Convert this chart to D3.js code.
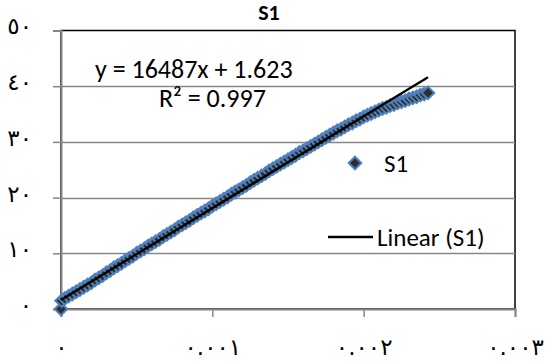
<!DOCTYPE html>
<html>
<head>
<meta charset="utf-8">
<script src="https://cdn.jsdelivr.net/npm/d3@7/dist/d3.min.js"></script>
<style>
  html, body { margin: 0; padding: 0; background: #fff; }
  svg { display: block; }
</style>
</head>
<body>
<svg id="chart" width="545" height="362"></svg>
<script>
// Series S1 (x, y)
const xValues = [
  0.000000, 0.000004, 0.000025, 0.000050, 0.000075, 0.000100, 0.000125, 0.000150, 0.000175, 0.000200,
  0.000225, 0.000250, 0.000275, 0.000300, 0.000325, 0.000350, 0.000375, 0.000400, 0.000425, 0.000450,
  0.000475, 0.000500, 0.000525, 0.000550, 0.000575, 0.000600, 0.000625, 0.000650, 0.000675, 0.000700,
  0.000725, 0.000750, 0.000775, 0.000800, 0.000825, 0.000850, 0.000875, 0.000900, 0.000925, 0.000950,
  0.000975, 0.001000, 0.001025, 0.001050, 0.001075, 0.001100, 0.001125, 0.001150, 0.001175, 0.001200,
  0.001225, 0.001250, 0.001275, 0.001300, 0.001325, 0.001350, 0.001375, 0.001400, 0.001425, 0.001450,
  0.001475, 0.001500, 0.001525, 0.001550, 0.001575, 0.001600, 0.001625, 0.001650, 0.001675, 0.001700,
  0.001725, 0.001750, 0.001775, 0.001800, 0.001825, 0.001850, 0.001875, 0.001900, 0.001925, 0.001950,
  0.001975, 0.002000, 0.002025, 0.002050, 0.002075, 0.002100, 0.002125, 0.002150, 0.002175, 0.002200,
  0.002225, 0.002250, 0.002275, 0.002300, 0.002325, 0.002350, 0.002375, 0.002400, 0.002425
];
const yValues = [
  0.0, 1.5, 1.9, 2.3, 2.7, 3.1, 3.5, 3.9, 4.3, 4.7,
  5.2, 5.6, 6.0, 6.5, 6.9, 7.4, 7.8, 8.2, 8.7, 9.1,
  9.5, 10.0, 10.4, 10.8, 11.3, 11.7, 12.1, 12.5, 13.0, 13.4,
  13.8, 14.2, 14.7, 15.1, 15.5, 15.9, 16.4, 16.8, 17.2, 17.6,
  18.0, 18.5, 18.9, 19.3, 19.7, 20.1, 20.6, 21.0, 21.4, 21.8,
  22.2, 22.7, 23.1, 23.5, 23.9, 24.3, 24.8, 25.2, 25.6, 26.0,
  26.4, 26.8, 27.2, 27.6, 28.1, 28.4, 28.8, 29.2, 29.6, 30.0,
  30.4, 30.8, 31.2, 31.6, 32.0, 32.3, 32.7, 33.1, 33.4, 33.8,
  34.1, 34.5, 34.8, 35.1, 35.4, 35.7, 36.0, 36.2, 36.5, 36.7,
  37.0, 37.2, 37.4, 37.7, 37.9, 38.1, 38.4, 38.6, 38.8
];

// Linear trendline
const slope = 16487;
const intercept = 1.623;
const rSquared = 0.997;

// Axis ticks and labels
const xTicks = [0, 0.001, 0.002, 0.003];
const xTickLabels = ["٠", "٠.٠٠١", "٠.٠٠٢", "٠.٠٠٣"];
const yTicks = [0, 10, 20, 30, 40, 50];
const yTickLabels = ["٠", "١٠", "٢٠", "٣٠", "٤٠", "٥٠"];

const seriesName = "S1";
const trendName = "Linear (S1)";

const svg = d3.select("#chart");
const plot = { left: 61, right: 515, top: 30.5, bottom: 309 };

const x = d3.scaleLinear().domain([0, 0.003]).range([plot.left, plot.right]);
const y = d3.scaleLinear().domain([0, 50]).range([plot.bottom, plot.top]);

const gridColor = "#868686";
const markerFill = "#2e2e2e";
const markerStroke = "#4F81BD";
const labelFont = "Carlito, Calibri, 'Liberation Sans', Arial, sans-serif";
const digitFont = "'DejaVu Sans', sans-serif";

// Plot-area border
svg.append("rect")
  .attr("x", plot.left).attr("y", plot.top)
  .attr("width", plot.right - plot.left).attr("height", plot.bottom - plot.top)
  .attr("fill", "#fff").attr("stroke", "#000").attr("stroke-width", 1.5);

// Horizontal gridlines
svg.append("g")
  .selectAll("line")
  .data(yTicks.filter(d => d > 0 && d < 50))
  .join("line")
  .attr("x1", plot.left).attr("x2", plot.right)
  .attr("y1", d => Math.round(y(d)) + 0.5).attr("y2", d => Math.round(y(d)) + 0.5)
  .attr("stroke", gridColor).attr("stroke-width", 1.5);

// Y axis
const yAxis = d3.axisLeft(y)
  .tickValues(yTicks)
  .tickFormat((d, i) => yTickLabels[i])
  .tickSize(8)
  .tickPadding(21);
const gy = svg.append("g").attr("transform", `translate(${plot.left},0)`).call(yAxis);
gy.select(".domain").attr("stroke", gridColor).attr("stroke-width", 2);
gy.selectAll(".tick line").attr("stroke", gridColor).attr("stroke-width", 1.5);
gy.selectAll(".tick text")
  .attr("font-family", digitFont).attr("font-size", 23).attr("fill", "#000")
  .attr("dy", "0.15em");

// X axis
const xAxis = d3.axisBottom(x)
  .tickValues(xTicks)
  .tickFormat((d, i) => xTickLabels[i])
  .tickSize(8)
  .tickPadding(22);
const gx = svg.append("g").attr("transform", `translate(0,${plot.bottom})`).call(xAxis);
gx.select(".domain").attr("stroke", gridColor).attr("stroke-width", 2);
gx.selectAll(".tick line").attr("stroke", gridColor).attr("stroke-width", 1.5);
gx.selectAll(".tick text")
  .attr("font-family", digitFont).attr("font-size", 23).attr("fill", "#000");

// Scatter markers
const points = xValues.map((v, i) => ({ x: v, y: yValues[i] }));
const diamond = d3.symbol().type(d3.symbolDiamond2).size(100);
svg.append("g")
  .selectAll("path")
  .data(points)
  .join("path")
  .attr("d", diamond)
  .attr("transform", d => `translate(${x(d.x)},${y(d.y)})`)
  .attr("fill", markerFill)
  .attr("stroke", markerStroke)
  .attr("stroke-width", 2);

// Trendline over the x extent of the data
const xExt = d3.extent(xValues);
svg.append("line")
  .attr("x1", x(xExt[0])).attr("y1", y(slope * xExt[0] + intercept))
  .attr("x2", x(xExt[1])).attr("y2", y(slope * xExt[1] + intercept))
  .attr("stroke", "#000").attr("stroke-width", 2.25);

// Title
svg.append("text")
  .attr("x", 269).attr("y", 20)
  .attr("text-anchor", "middle")
  .attr("font-family", labelFont).attr("font-size", 22).attr("font-weight", "bold")
  .text(seriesName);

// Trendline equation
svg.append("text")
  .attr("x", 95).attr("y", 78)
  .attr("font-family", labelFont).attr("font-size", 26)
  .text(`y = ${slope}x + ${intercept}`);
svg.append("text")
  .attr("x", 159).attr("y", 107)
  .attr("font-family", labelFont).attr("font-size", 26)
  .text(`R² = ${rSquared}`);

// Legend
const legend = svg.append("g");
legend.append("path")
  .attr("d", diamond)
  .attr("transform", `translate(355,163)`)
  .attr("fill", markerFill).attr("stroke", markerStroke).attr("stroke-width", 2);
legend.append("text")
  .attr("x", 384).attr("y", 172)
  .attr("font-family", labelFont).attr("font-size", 25)
  .text(seriesName);
legend.append("line")
  .attr("x1", 328).attr("x2", 373).attr("y1", 237).attr("y2", 237)
  .attr("stroke", "#000").attr("stroke-width", 2.5);
legend.append("text")
  .attr("x", 377).attr("y", 246)
  .attr("font-family", labelFont).attr("font-size", 25)
  .text(trendName);
</script>
</body>
</html>
